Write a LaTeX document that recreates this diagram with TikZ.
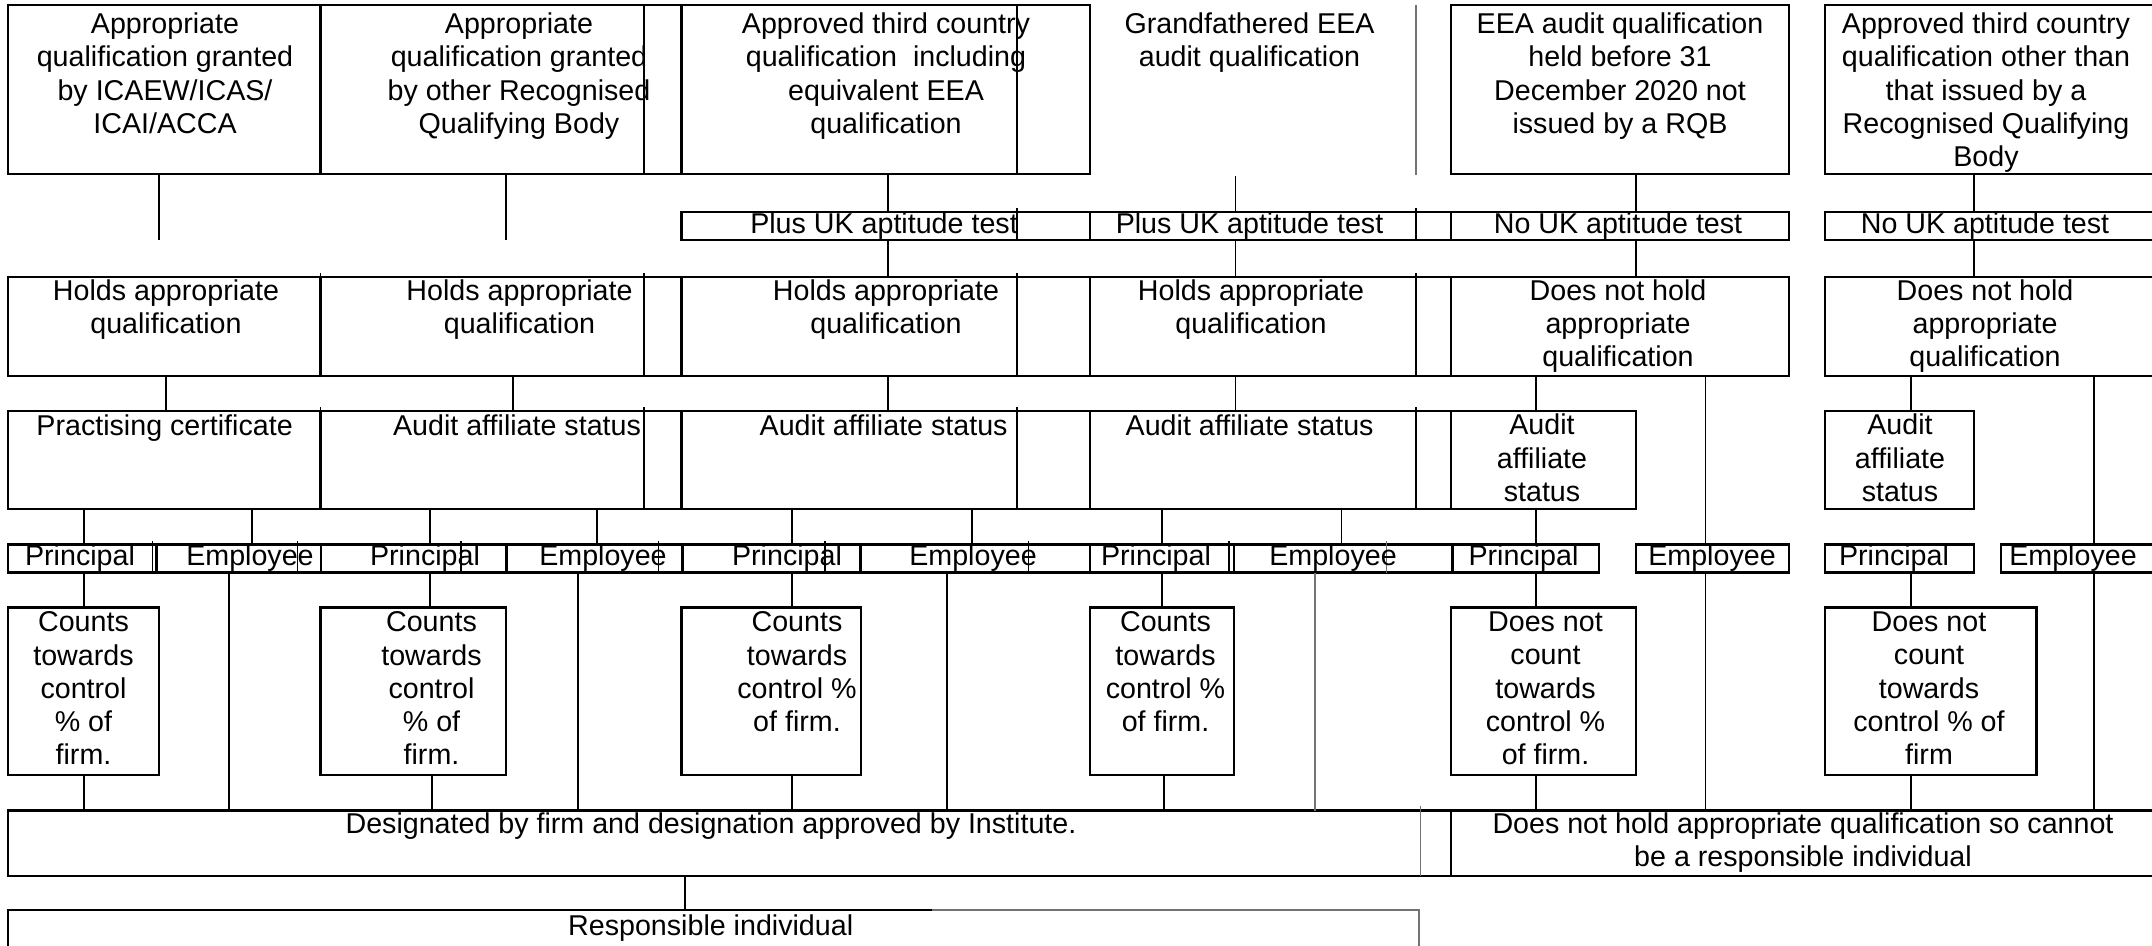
\documentclass[tikz,border=0pt]{standalone}
\usepackage{fontspec}
\setmainfont{Liberation Sans}
\usetikzlibrary{fit,calc}
\tikzset{
  bx/.style={draw, line width=0.72pt, inner sep=0pt, outer sep=0pt, rectangle},
  area/.style={inner sep=0pt, outer sep=0pt, rectangle},
  bline/.style={line width=0.72pt},
  conn/.style={line width=0.55pt},
  tickline/.style={line width=0.42pt},
  greyline/.style={line width=0.42pt, draw=black!55},
  txt/.style={inner sep=0pt, outer sep=0pt, anchor=north, align=center, font=\fontsize{8.15}{9.47}\selectfont},
}
\newcommand{\myvc}[4][conn]{\draw[#1] (#2 -| #3) -- (#4 -| #3);}
\newcommand{\mytk}[4][tickline]{\draw[#1] ($(#2 -| #3)+(0,-#4)$) -- (#2 -| #3);}
\newcommand{\mytkk}[4][tickline]{\draw[#1] ($(#2 -| #3)+(0,-3.5)$) -- (#4 -| #3);}
\begin{document}
\begin{tikzpicture}[x=0.1mm,y=-0.1mm]
\clip (0,0) rectangle (2152,945);
% named x positions
\foreach \n/\v in {x84/84,x159/159,x166/166,x229/229,x252/252,x430/430,x431/431.6,x506/506,x513/513,
  x578/578,x597/597,x685/685,x792/792,x888/888,x946/946.6,x972/972,x1017/1017,x1162/1162,x1164/1164,
  x1235/1235.5,x1315/1315,x1341/1341.5,x1536/1536,x1636/1636,x1705/1705.5,x1911/1911,x1974/1974,x2094/2094,
  t152/152.3,t298/297.7,t461/461,t658/658.3,t825/825,t1028/1028.3,t1229/1229,t1387/1386.7,t320/320.5,t644/644,t1416/1416}
  {\coordinate (\n) at (\v,0);}

% ---------- Row A ----------
\node[bx, fit={(8,5)(320.5,174)}] (A1) {};
\node[bx, fit={(320.5,5)(644,174)}] (A2) {};
\node[bx, fit={(681.5,5)(1090,174)}] (A3) {};
\draw[bline] (A2.north east) -- (A3.north west) (A2.south east) -- (A3.south west);
\draw[bline] (A3.north -| x1017) -- (A3.south -| x1017);
\node[area, fit={(1090,5)(1416,174)}] (A4) {};
\draw[greyline] (A4.north east) -- ($(A4.south east)+(0,1)$);
\node[bx, fit={(1451,5)(1789,174)}] (A5) {};
\node[bx, fit={(1825,5)(2170,174)}] (A6) {};

\node[txt] (A1t) at (165,12.8) {Appropriate\\qualification granted\\by ICAEW/ICAS/\\ICAI/ACCA};
\node[txt] (A2t) at (519,12.8) {Appropriate\\qualification granted\\by other Recognised\\Qualifying Body};
\node[txt] (A3t) at (886,12.8) {Approved third country\\qualification~ including\\equivalent EEA\\qualification};
\node[txt] (A4t) at (1249.5,12.8) {Grandfathered EEA\\audit qualification};
\node[txt] (A5t) at (1620,12.8) {EEA audit qualification\\held before 31\\December 2020 not\\issued by a RQB};
\node[txt] (A6t) at (1986,12.8) {Approved third country\\qualification other than\\that issued by a\\Recognised Qualifying\\Body};

% ---------- Row B ----------
\node[bx, fit={(681.5,212)(1090,240)}] (B3) {};
\draw[bline] (B3.north -| x1017) -- (B3.south -| x1017);
\node[bx, fit={(1090,212)(1416,240)}] (B4) {};
\node[bx, fit={(1451,212)(1789,240)}] (B5) {};
\draw[bline] (B4.north east) -- (B5.north west) (B4.south east) -- (B5.south west);
\node[bx, fit={(1825,212)(2170,240)}] (B6) {};
\mytk{B3.north}{x1017}{4}
\mytk{B4.north}{t1416}{4}

\node[txt] (B3t) at (884,212.8) {Plus UK aptitude test};
\node[txt] (B4t) at (1249.5,212.8) {Plus UK aptitude test};
\node[txt] (B5t) at (1618,212.8) {No UK aptitude test};
\node[txt] (B6t) at (1985,212.8) {No UK aptitude test};

% ---------- Row C ----------
\node[bx, fit={(8,277)(320.5,376)}] (C1) {};
\node[bx, fit={(320.5,277)(644,376)}] (C2) {};
\node[bx, fit={(681.5,277)(1090,376)}] (C3) {};
\draw[bline] (C2.north east) -- (C3.north west) (C2.south east) -- (C3.south west);
\draw[bline] (C3.north -| x1017) -- (C3.south -| x1017);
\node[bx, fit={(1090,277)(1416,376)}] (C4) {};
\node[bx, fit={(1451,277)(1789,376)}] (C5) {};
\draw[bline] (C4.north east) -- (C5.north west) (C4.south east) -- (C5.south west);
\node[bx, fit={(1825,277)(2170,376)}] (C6) {};
\mytk{C1.north}{t320}{4}
\mytk{C2.north}{t644}{4}
\mytk{C3.north}{x1017}{4}
\mytk{C4.north}{t1416}{4}

\node[txt] (C1t) at (166,279.5) {Holds appropriate\\qualification};
\node[txt] (C2t) at (519.5,279.5) {Holds appropriate\\qualification};
\node[txt] (C3t) at (886,279.5) {Holds appropriate\\qualification};
\node[txt] (C4t) at (1251,279.5) {Holds appropriate\\qualification};
\node[txt] (C5t) at (1618,279.5) {Does not hold\\appropriate\\qualification};
\node[txt] (C6t) at (1985,279.5) {Does not hold\\appropriate\\qualification};

% ---------- Row D ----------
\node[bx, fit={(8,411)(320.5,509)}] (D1) {};
\node[bx, fit={(320.5,411)(644,509)}] (D2) {};
\node[bx, fit={(681.5,411)(1090,509)}] (D3) {};
\draw[bline] (D2.north east) -- (D3.north west) (D2.south east) -- (D3.south west);
\draw[bline] (D3.north -| x1017) -- (D3.south -| x1017);
\node[bx, fit={(1090,411)(1416,509)}] (D4) {};
\node[bx, fit={(1451,411)(1636,509)}] (D5) {};
\draw[bline] (D4.north east) -- (D5.north west) (D4.south east) -- (D5.south west);
\node[bx, fit={(1825,411)(1974,509)}] (D6) {};
\mytk{D1.north}{t320}{4}
\mytk{D2.north}{t644}{4}
\mytk{D3.north}{x1017}{4}
\mytk{D4.north}{t1416}{4}

\node[txt] (D1t) at (164.6,414.5) {Practising certificate};
\node[txt] (D2t) at (517,414.5) {Audit affiliate status};
\node[txt] (D3t) at (883.6,414.5) {Audit affiliate status};
\node[txt] (D4t) at (1249.6,414.5) {Audit affiliate status};
\node[txt] (D5t) at (1542,414) {Audit\\affiliate\\status};
\node[txt] (D6t) at (1900,414) {Audit\\affiliate\\status};

% ---------- Row E ----------
\node[bx, fit={(8,544.5)(156.7,572.5)}] (E1p) {};
\node[bx, fit={(156.7,544.5)(321,572.5)}] (E1e) {};
\node[bx, fit={(321,544.5)(506.7,572.5)}] (E2p) {};
\node[bx, fit={(506.7,544.5)(682.3,572.5)}] (E2e) {};
\node[bx, fit={(682.3,544.5)(860.7,572.5)}] (E3p) {};
\node[bx, fit={(860.7,544.5)(1090,572.5)}] (E3e) {};
\node[bx, fit={(1090,544.5)(1234,572.5)}] (E4p) {};
\node[bx, fit={(1234,544.5)(1452.7,572.5)}] (E4e) {};
\node[bx, fit={(1452.7,544.5)(1599,572.5)}] (E5p) {};
\node[bx, fit={(1636,544.5)(1789,572.5)}] (E5e) {};
\node[bx, fit={(1825,544.5)(1974,572.5)}] (E6p) {};
\node[bx, fit={(2001,544.5)(2170,572.5)}] (E6e) {};
\mytkk{E1p.north}{t152}{E1p.south}
\mytkk{E1e.north}{t298}{E1e.south}
\mytkk{E2p.north}{t461}{E2p.south}
\mytkk{E2e.north}{t658}{E2e.south}
\mytkk{E3p.north}{t825}{E3p.south}
\mytkk{E3e.north}{t1028}{E3e.south}
\mytkk{E4p.north}{t1229}{E4p.south}
\mytkk[greyline]{E4e.north}{t1387}{E4e.south}

\node[txt] (E1pt) at (80,544.5) {Principal};
\node[txt] (E1et) at (250,544.5) {Employee};
\node[txt] (E2pt) at (425,544.5) {Principal};
\node[txt] (E2et) at (603,544.5) {Employee};
\node[txt] (E3pt) at (787,544.5) {Principal};
\node[txt] (E3et) at (973,544.5) {Employee};
\node[txt] (E4pt) at (1156,544.5) {Principal};
\node[txt] (E4et) at (1333,544.5) {Employee};
\node[txt] (E5pt) at (1523.5,544.5) {Principal};
\node[txt] (E5et) at (1712,544.5) {Employee};
\node[txt] (E6pt) at (1894,544.5) {Principal};
\node[txt] (E6et) at (2073,544.5) {Employee};

% ---------- Row F ----------
\node[bx, fit={(8,607.3)(159,775)}] (F1) {};
\node[bx, fit={(320.5,607.3)(506,775)}] (F2) {};
\node[bx, fit={(681.5,607.3)(860.8,775)}] (F3) {};
\node[bx, fit={(1090,607.3)(1234,775)}] (F4) {};
\node[bx, fit={(1451,607.3)(1636,775)}] (F5) {};
\node[bx, fit={(1825,607.3)(2036.4,775)}] (F6) {};

\node[txt] (F1t) at (83.5,611.8) {Counts\\towards\\control\\\% of\\firm.};
\node[txt] (F2t) at (431.5,611.8) {Counts\\towards\\control\\\% of\\firm.};
\node[txt] (F3t) at (797,611.8) {Counts\\towards\\control \%\\of firm.};
\node[txt] (F4t) at (1165.5,611.8) {Counts\\towards\\control \%\\of firm.};
\node[txt] (F5t) at (1545.5,611.8) {Does not\\count\\towards\\control \%\\of firm.};
\node[txt] (F6t) at (1929,611.8) {Does not\\count\\towards\\control \% of\\firm};

% ---------- Row G ----------
\node[area, fit={(8,810.7)(1420.6,876)}] (G1) {};
\draw[bline] (G1.north east) -- (G1.north west) -- (G1.south west) -- (G1.south east);
\draw[greyline] ($(G1.north east)+(0,-5)$) -- (G1.south east);
\node[bx, fit={(1451,810.7)(2170,876)}] (G2) {};
\draw[bline] (G1.north east) -- (G2.north west) (G1.south east) -- (G2.south west);

\node[txt] (G1t) at (711,812.8) {Designated by firm and designation approved by Institute.};
\node[txt] (G2t) at (1803,812.8) {Does not hold appropriate qualification so cannot\\be a responsible individual};

% ---------- Row H ----------
\node[area, fit={(8,910)(1419,960)}] (H) {};
\coordinate (Hmid) at (932,910);
\draw[bline] (H.south west) -- (H.north west) -- (Hmid);
\draw[greyline] (Hmid) -- (H.north east) -- (H.south east);
\node[txt] (Ht) at (710.7,914.5) {Responsible individual};

% ---------- Connectors ----------
\coordinate (A1end) at (159,240);
\coordinate (A2end) at (506,240);
\draw[conn] (A1.south -| A1end) -- (A1end);
\draw[conn] (A2.south -| A2end) -- (A2end);
\coordinate (A4bot) at (1235.5,176);
\draw[conn] (A4bot) -- (B4.north -| A4bot);
\myvc{A3.south}{x888}{B3.north}
\myvc{A5.south}{x1636}{B5.north}
\myvc{A6.south}{x1974}{B6.north}
\myvc{B3.south}{x888}{C3.north}
\myvc{B4.south}{x1235}{C4.north}
\myvc{B5.south}{x1636}{C5.north}
\myvc{B6.south}{x1974}{C6.north}

\myvc{C1.south}{x166}{D1.north}
\myvc{C2.south}{x513}{D2.north}
\myvc{C3.south}{x888}{D3.north}
\myvc{C4.south}{x1235}{D4.north}
\myvc{C5.south}{x1536}{D5.north}
\myvc{C5.south}{x1705}{E5e.north}
\myvc{C6.south}{x1911}{D6.north}
\myvc{C6.south}{x2094}{E6e.north}

\myvc{D1.south}{x84}{E1p.north}
\myvc{D1.south}{x252}{E1e.north}
\myvc{D2.south}{x430}{E2p.north}
\myvc{D2.south}{x597}{E2e.north}
\myvc{D3.south}{x792}{E3p.north}
\myvc{D3.south}{x972}{E3e.north}
\myvc{D4.south}{x1162}{E4p.north}
\myvc{D4.south}{x1341}{E4e.north}
\myvc{D5.south}{x1536}{E5p.north}

\myvc{E1p.south}{x84}{F1.north}
\myvc{E1e.south}{x229}{G1.north}
\myvc{E2p.south}{x430}{F2.north}
\myvc{E2e.south}{x578}{G1.north}
\myvc{E3p.south}{x792}{F3.north}
\myvc{E3e.south}{x946}{G1.north}
\myvc{E4p.south}{x1162}{F4.north}
\myvc[greyline]{E4e.south}{x1315}{G1.north}
\myvc{E5p.south}{x1536}{F5.north}
\myvc{E5e.south}{x1705}{G2.north}
\myvc{E6p.south}{x1911}{F6.north}
\myvc{E6e.south}{x2094}{G2.north}

\myvc{F1.south}{x84}{G1.north}
\myvc{F2.south}{x431}{G1.north}
\myvc{F3.south}{x792}{G1.north}
\myvc{F4.south}{x1164}{G1.north}
\myvc{F5.south}{x1536}{G2.north}
\myvc{F6.south}{x1911}{G2.north}

\myvc{G1.south}{x685}{H.north}
\end{tikzpicture}
\end{document}
